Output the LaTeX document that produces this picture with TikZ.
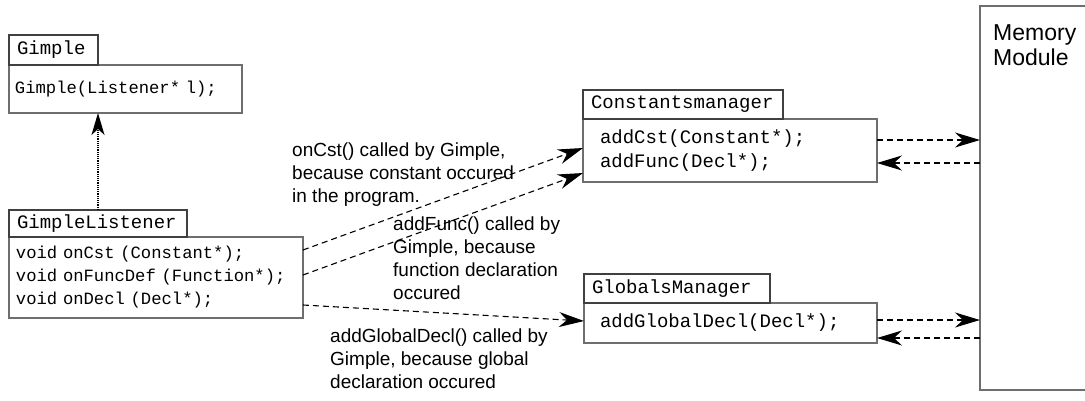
\documentclass[tikz,border=0pt]{standalone}
\usepackage{fontspec}
\setmainfont{Liberation Sans}
\setmonofont{Liberation Mono}
\usetikzlibrary{arrows.meta}

\definecolor{namegray}{HTML}{404040}
\definecolor{linegray}{HTML}{6E6E6E}

\tikzset{
    classname/.style={draw=namegray, line width=2.4pt, anchor=north west, outer sep=0pt,
        inner xsep=8pt, inner ysep=0pt, align=left, font=\ttfamily\fontsize{19}{22}\selectfont},
    methods/.style={draw=linegray, line width=1.3pt, anchor=north west, outer sep=0pt,
        inner ysep=0pt, align=left},
    call/.style={-{Stealth[length=25pt,width=15pt,inset=8pt]}, line width=1.1pt, dash pattern=on 6pt off 4pt},
    realizes/.style={-{Stealth[length=22pt,width=13pt,inset=6pt]}, line width=1.2pt, densely dotted},
    note/.style={anchor=north west, inner sep=0pt, align=left, font=\fontsize{19}{22.8}\selectfont}
}

\begin{document}
\begin{tikzpicture}[x=1pt, y=-1pt]
    \useasboundingbox (0,0) rectangle (1085,400);
    \clip (0,0) rectangle (1085,400);

    % class boxes: body first, name tab on top
    \node[methods, text width=221pt, inner xsep=6pt, minimum height=48pt,
        font=\ttfamily\fontsize{17.2}{23}\selectfont] (gimplebody) at (9,65) {Gimple(Listener* l);};
    \node[classname, text width=73pt, minimum height=30pt] (gimple) at (9,35) {Gimple};

    \node[methods, text width=280pt, inner xsep=7pt, minimum height=81pt,
        font=\ttfamily\fontsize{17.2}{23}\selectfont] (listenerbody) at (9,237)
        {void onCst (Constant*);\\void onFuncDef (Function*);\\void onDecl (Decl*);};
    \node[classname, text width=162pt, minimum height=27pt] (listener) at (9,210) {GimpleListener};

    \node[methods, text width=260pt, inner xsep=17pt, minimum height=63pt,
        font=\ttfamily\fontsize{19}{24}\selectfont] (constantsbody) at (583,119)
        {addCst(Constant*);\\addFunc(Decl*);};
    \node[classname, text width=184pt, minimum height=29pt] (constants) at (583,90) {Constantsmanager};

    \node[methods, text width=261pt, inner xsep=16pt, minimum height=40pt,
        font=\ttfamily\fontsize{19}{24}\selectfont] (globalsbody) at (584,303)
        {addGlobalDecl(Decl*);};
    \node[classname, text width=170pt, minimum height=29pt] (globals) at (584,274) {GlobalsManager};

    \node[methods, minimum width=160pt, minimum height=384pt] (memory) at (980,6) {};
    \node[note, font=\fontsize{23}{25}\selectfont] (memnote) at (993,24) {Memory\\Module};

    % listener implements the interface Gimple expects
    \draw (listener.north) edge[realizes] (listener.north |- gimplebody.south);

    % callbacks into the managers
    \draw ([yshift=-13pt]listenerbody.north east) edge[call] ([yshift=-29pt]constantsbody.north west);
    \draw ([yshift=-38pt]listenerbody.north east) edge[call] ([yshift=-54pt]constantsbody.north west);
    \draw ([yshift=-68pt]listenerbody.north east) edge[call] ([yshift=-18pt]globalsbody.north west);

    % managers <-> memory
    \coordinate (cstin) at ([yshift=-21pt]constantsbody.north east);
    \coordinate (cstback) at ([yshift=-44pt]constantsbody.north east);
    \coordinate (declin) at ([yshift=-17pt]globalsbody.north east);
    \coordinate (declback) at ([yshift=-35pt]globalsbody.north east);
    \draw (cstin) edge[call] (cstin -| memory.west);
    \draw (cstback -| memory.west) edge[call] (cstback);
    \draw (declin) edge[call] (declin -| memory.west);
    \draw (declback -| memory.west) edge[call] (declback);

    \node[note] (cstnote) at (292,143) {onCst() called by Gimple,\\because constant occured\\in the program.};
    \node[note] (funcnote) at (393,217) {addFunc() called by\\Gimple, because\\function declaration\\occured};
    \node[note] (declnote) at (330,329) {addGlobalDecl() called by\\Gimple, because global\\declaration occured};
\end{tikzpicture}
\end{document}
